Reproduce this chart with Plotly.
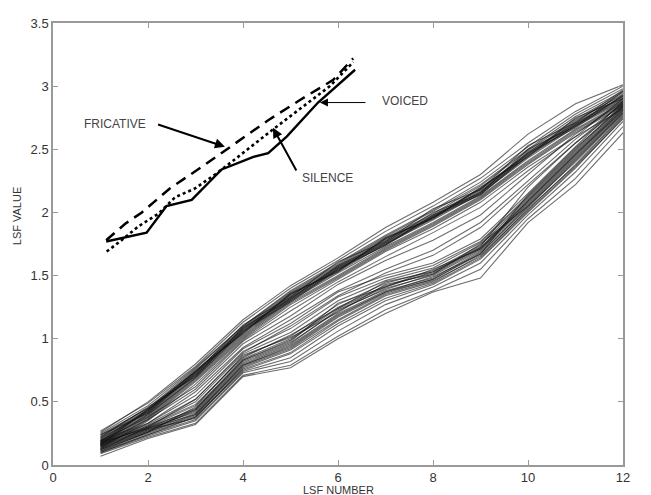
import plotly.graph_objects as go

# ---------------- data ----------------
LSF_NUMBER = [1, 2, 3, 4, 5, 6, 7, 8, 9, 10, 11, 12]

# upper cluster of frames
UPPER = [
    [0.27, 0.49, 0.78, 1.13, 1.40, 1.62, 1.85, 2.05, 2.27, 2.55, 2.80, 3.00],
    [0.25, 0.47, 0.77, 1.10, 1.38, 1.60, 1.82, 2.02, 2.24, 2.52, 2.78, 2.98],
    [0.24, 0.45, 0.74, 1.09, 1.36, 1.58, 1.80, 1.99, 2.21, 2.49, 2.74, 2.95],
    [0.22, 0.44, 0.74, 1.08, 1.35, 1.57, 1.79, 1.98, 2.19, 2.47, 2.73, 2.93],
    [0.21, 0.43, 0.73, 1.07, 1.34, 1.56, 1.78, 1.97, 2.18, 2.46, 2.71, 2.92],
    [0.20, 0.42, 0.72, 1.06, 1.33, 1.55, 1.77, 1.96, 2.17, 2.45, 2.70, 2.91],
    [0.19, 0.41, 0.71, 1.05, 1.32, 1.54, 1.76, 1.95, 2.16, 2.44, 2.69, 2.89],
    [0.18, 0.40, 0.70, 1.04, 1.31, 1.53, 1.75, 1.94, 2.15, 2.43, 2.68, 2.88],
    [0.17, 0.39, 0.69, 1.03, 1.30, 1.52, 1.73, 1.92, 2.13, 2.41, 2.66, 2.87],
    [0.16, 0.38, 0.68, 1.02, 1.29, 1.50, 1.72, 1.91, 2.12, 2.40, 2.65, 2.86],
    [0.15, 0.37, 0.67, 1.01, 1.28, 1.49, 1.71, 1.90, 2.11, 2.39, 2.64, 2.85],
    [0.14, 0.36, 0.66, 1.00, 1.27, 1.48, 1.70, 1.89, 2.10, 2.38, 2.63, 2.84],
    [0.22, 0.46, 0.70, 1.09, 1.31, 1.58, 1.76, 2.00, 2.15, 2.50, 2.68, 2.96],
    [0.18, 0.43, 0.75, 1.04, 1.36, 1.53, 1.80, 1.95, 2.20, 2.44, 2.75, 2.90],
    [0.24, 0.41, 0.73, 1.11, 1.33, 1.61, 1.77, 2.03, 2.18, 2.53, 2.71, 2.97],
    [0.16, 0.44, 0.71, 1.07, 1.30, 1.56, 1.74, 1.98, 2.14, 2.47, 2.67, 2.93],
    [0.26, 0.50, 0.80, 1.15, 1.42, 1.64, 1.88, 2.08, 2.30, 2.62, 2.86, 3.01],
    [0.13, 0.35, 0.64, 0.99, 1.25, 1.47, 1.69, 1.87, 2.08, 2.36, 2.60, 2.82],
    [0.21, 0.42, 0.74, 1.05, 1.35, 1.54, 1.79, 1.96, 2.19, 2.46, 2.72, 2.94],
    [0.19, 0.44, 0.72, 1.08, 1.32, 1.57, 1.75, 1.97, 2.16, 2.48, 2.70, 2.92],
    [0.23, 0.45, 0.76, 1.10, 1.37, 1.59, 1.81, 2.01, 2.22, 2.50, 2.76, 2.96],
    [0.17, 0.40, 0.69, 1.06, 1.29, 1.55, 1.74, 1.96, 2.14, 2.45, 2.69, 2.90],
]

# lower cluster of frames
LOWER = [
    [0.20, 0.33, 0.55, 0.92, 1.12, 1.37, 1.50, 1.60, 1.79, 2.15, 2.52, 2.88],
    [0.19, 0.32, 0.52, 0.90, 1.08, 1.33, 1.48, 1.58, 1.77, 2.13, 2.50, 2.86],
    [0.18, 0.31, 0.50, 0.88, 1.05, 1.30, 1.46, 1.56, 1.76, 2.12, 2.49, 2.85],
    [0.17, 0.30, 0.47, 0.86, 1.02, 1.27, 1.44, 1.54, 1.74, 2.11, 2.48, 2.84],
    [0.16, 0.29, 0.45, 0.84, 1.00, 1.25, 1.42, 1.52, 1.72, 2.10, 2.47, 2.83],
    [0.15, 0.28, 0.43, 0.82, 0.97, 1.22, 1.40, 1.50, 1.70, 2.08, 2.45, 2.82],
    [0.14, 0.27, 0.41, 0.80, 0.95, 1.20, 1.38, 1.48, 1.69, 2.06, 2.43, 2.80],
    [0.13, 0.26, 0.39, 0.78, 0.92, 1.17, 1.36, 1.47, 1.68, 2.04, 2.41, 2.79],
    [0.12, 0.25, 0.38, 0.76, 0.89, 1.14, 1.34, 1.45, 1.66, 2.02, 2.38, 2.77],
    [0.11, 0.24, 0.36, 0.74, 0.85, 1.10, 1.30, 1.43, 1.63, 2.00, 2.35, 2.75],
    [0.10, 0.23, 0.35, 0.73, 0.82, 1.06, 1.27, 1.41, 1.60, 1.98, 2.32, 2.72],
    [0.09, 0.22, 0.33, 0.71, 0.79, 1.02, 1.23, 1.38, 1.55, 1.95, 2.27, 2.68],
    [0.07, 0.21, 0.32, 0.70, 0.77, 1.00, 1.20, 1.37, 1.48, 1.92, 2.22, 2.63],
    [0.16, 0.31, 0.48, 0.85, 1.03, 1.24, 1.45, 1.53, 1.73, 2.20, 2.55, 2.87],
    [0.13, 0.27, 0.44, 0.83, 0.98, 1.28, 1.41, 1.55, 1.71, 2.09, 2.46, 2.81],
    [0.18, 0.29, 0.40, 0.79, 0.94, 1.19, 1.37, 1.49, 1.67, 2.14, 2.51, 2.84],
    [0.11, 0.26, 0.46, 0.87, 1.01, 1.21, 1.43, 1.51, 1.75, 2.05, 2.40, 2.78],
    [0.14, 0.28, 0.37, 0.77, 0.91, 1.15, 1.35, 1.46, 1.65, 2.03, 2.37, 2.76],
    [0.15, 0.29, 0.42, 0.81, 0.96, 1.23, 1.39, 1.51, 1.71, 2.07, 2.44, 2.81],
    [0.12, 0.26, 0.40, 0.79, 0.93, 1.18, 1.37, 1.47, 1.67, 2.05, 2.42, 2.79],
    [0.17, 0.30, 0.44, 0.83, 0.99, 1.24, 1.41, 1.53, 1.72, 2.09, 2.46, 2.83],
    [0.10, 0.24, 0.38, 0.75, 0.88, 1.12, 1.32, 1.44, 1.64, 2.01, 2.36, 2.74],
]

# frames lying between the two clusters
MIDDLE = [
    [0.17, 0.36, 0.60, 0.96, 1.18, 1.43, 1.62, 1.78, 1.98, 2.30, 2.62, 2.88],
    [0.15, 0.33, 0.58, 0.93, 1.15, 1.38, 1.55, 1.70, 1.92, 2.25, 2.58, 2.86],
    [0.19, 0.38, 0.62, 0.98, 1.22, 1.45, 1.65, 1.84, 2.04, 2.33, 2.60, 2.90],
    [0.12, 0.30, 0.52, 0.89, 1.10, 1.34, 1.52, 1.66, 1.88, 2.22, 2.55, 2.84],
]

# mean vectors (drawn on a compressed x position)
VOICED_X = [1.12, 1.97, 2.39, 2.92, 3.55, 4.22, 4.53, 4.92, 5.58, 6.36]
VOICED_Y = [1.77, 1.84, 2.05, 2.10, 2.34, 2.44, 2.47, 2.60, 2.87, 3.13]

FRICATIVE_X = [1.12, 1.52, 1.87, 2.46, 3.13, 3.80, 4.53, 5.20, 5.90, 6.32]
FRICATIVE_Y = [1.78, 1.91, 2.00, 2.19, 2.36, 2.54, 2.73, 2.89, 3.05, 3.22]

SILENCE_X = [1.13, 1.41, 1.80, 2.22, 2.57, 2.99, 3.41, 3.76, 4.64, 5.27, 5.83, 6.32]
SILENCE_Y = [1.69, 1.77, 1.89, 1.99, 2.12, 2.19, 2.30, 2.40, 2.66, 2.84, 3.00, 3.19]

X_TICKS = [0, 2, 4, 6, 8, 10, 12]
Y_TICKS = [0, 0.5, 1, 1.5, 2, 2.5, 3, 3.5]
Y_TICK_LABELS = ["0", "0.5", "1", "1.5", "2", "2.5", "3", "3.5"]

# ---------------- figure ----------------
FONT = "Liberation Sans, Arial, sans-serif"
fig = go.Figure()

for frame in UPPER + LOWER + MIDDLE:
    fig.add_trace(go.Scatter(
        x=LSF_NUMBER, y=frame, mode="lines",
        line=dict(color="rgba(20,20,20,0.62)", width=1.1),
        hoverinfo="skip", showlegend=False))

fig.add_trace(go.Scatter(x=FRICATIVE_X, y=FRICATIVE_Y, mode="lines",
                         line=dict(color="black", width=2.5, dash="11px,7px"),
                         showlegend=False))
fig.add_trace(go.Scatter(x=SILENCE_X, y=SILENCE_Y, mode="lines",
                         line=dict(color="black", width=2.6, dash="dot"),
                         showlegend=False))
fig.add_trace(go.Scatter(x=VOICED_X, y=VOICED_Y, mode="lines",
                         line=dict(color="black", width=2.4),
                         showlegend=False))

txt = dict(family=FONT, size=12, color="#444")
annotations = [
    # labels
    dict(x=1.31, y=2.70, text="FRICATIVE", showarrow=False, font=txt,
         xref="x", yref="y"),
    dict(x=5.77, y=2.27, text="SILENCE", showarrow=False, font=txt,
         xref="x", yref="y"),
    dict(x=7.40, y=2.88, text="VOICED", showarrow=False, font=txt,
         xref="x", yref="y"),
    # arrows
    dict(x=3.62, y=2.52, ax=2.18, ay=2.70, xref="x", yref="y",
         axref="x", ayref="y", text="", showarrow=True, arrowhead=2,
         arrowsize=1, arrowwidth=2, arrowcolor="black"),
    dict(x=4.63, y=2.67, ax=5.14, ay=2.32, xref="x", yref="y",
         axref="x", ayref="y", text="", showarrow=True, arrowhead=2,
         arrowsize=1, arrowwidth=2, arrowcolor="black"),
    dict(x=5.62, y=2.87, ax=6.61, ay=2.87, xref="x", yref="y",
         axref="x", ayref="y", text="", showarrow=True, arrowhead=2,
         arrowsize=1.6, arrowwidth=1, arrowcolor="black"),
    # axis titles
    dict(x=0.5, y=0, xref="paper", yref="paper", yshift=-25,
         text="LSF NUMBER", showarrow=False, yanchor="middle",
         font=dict(family=FONT, size=11, color="#333")),
    dict(x=0, y=1.97, xref="paper", yref="y", xshift=-36,
         text="LSF VALUE", showarrow=False, textangle=-90,
         xanchor="center", yanchor="middle",
         font=dict(family=FONT, size=11, color="#333")),
]

axis_common = dict(
    showgrid=False, zeroline=False, showline=True, linecolor="#999",
    linewidth=1.5, mirror="ticks", ticks="inside", ticklen=5,
    tickcolor="#999", tickwidth=1,
    tickfont=dict(family=FONT, size=13, color="#333"),
)

# page body has an 8px margin, so the figure is sized to the remaining area
fig.update_layout(
    width=643, height=487,
    margin=dict(l=45, r=28, t=8, b=30),
    paper_bgcolor="white", plot_bgcolor="white",
    xaxis=dict(range=[0, 12], tickvals=X_TICKS, **axis_common),
    yaxis=dict(range=[0, 3.5], tickvals=Y_TICKS, ticktext=Y_TICK_LABELS,
               **axis_common),
    annotations=annotations,
    showlegend=False,
)

fig.write_html("out.html")
